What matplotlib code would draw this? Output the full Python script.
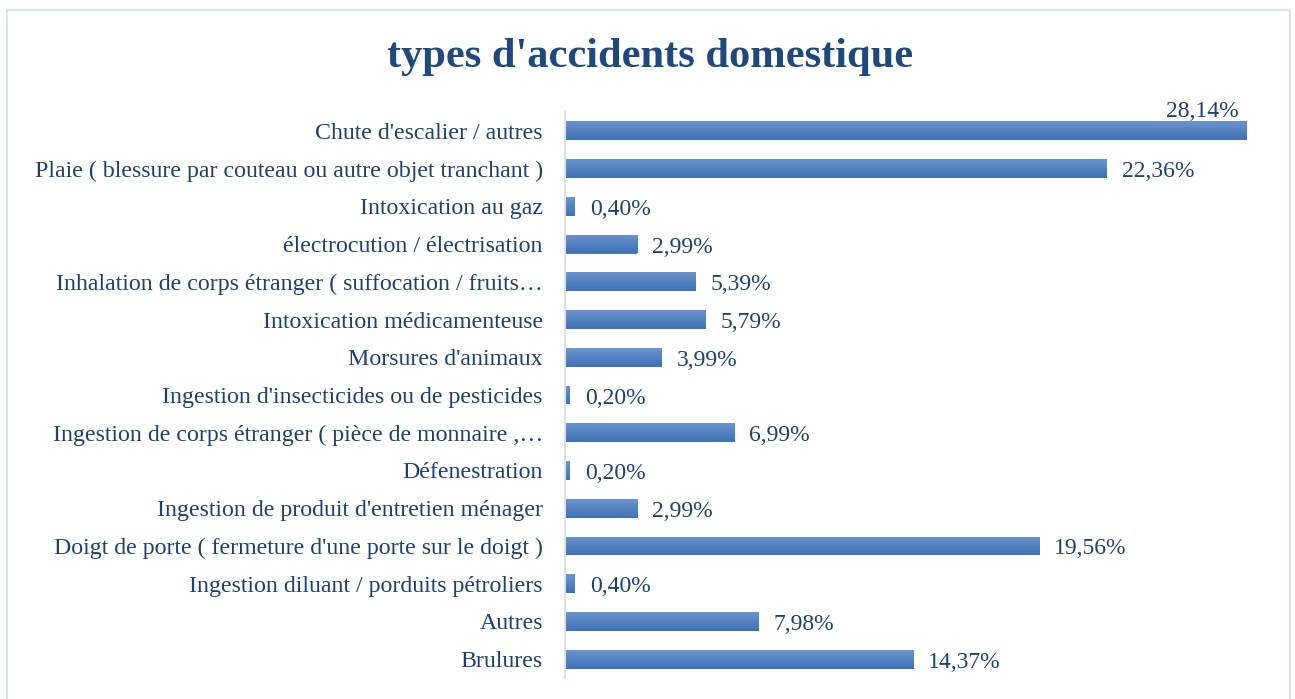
import matplotlib.pyplot as plt
import matplotlib.patches as mpatches
from matplotlib.colors import LinearSegmentedColormap
import numpy as np

plt.rcParams['font.family'] = ['Liberation Serif', 'DejaVu Serif']

categories = [
    "Chute d'escalier / autres",
    "Plaie ( blessure par couteau ou autre objet tranchant )",
    "Intoxication au gaz",
    "électrocution / électrisation",
    "Inhalation de corps étranger ( suffocation / fruits…",
    "Intoxication médicamenteuse",
    "Morsures d'animaux",
    "Ingestion d'insecticides ou de pesticides",
    "Ingestion de corps étranger ( pièce de monnaire ,…",
    "Défenestration",
    "Ingestion de produit d'entretien ménager",
    "Doigt de porte ( fermeture d'une porte sur le doigt )",
    "Ingestion diluant / porduits pétroliers",
    "Autres",
    "Brulures",
]
values = [28.14, 22.36, 0.40, 2.99, 5.39, 5.79, 3.99, 0.20, 6.99, 0.20,
          2.99, 19.56, 0.40, 7.98, 14.37]

text_col = '#1F3F6E'
title_col = '#1F497D'

fig = plt.figure(figsize=(12.95, 6.99), dpi=100)
fig.patches.append(mpatches.Rectangle((7 / 1295, -0.02), 1283 / 1295, 1 - 10 / 699 + 0.02,
                                      transform=fig.transFigure, fill=False,
                                      edgecolor='#D6E3F3', linewidth=1.5))
ax = fig.add_axes([565 / 1295, 1 - 678 / 699, 682 / 1295, 566 / 699])

y = np.arange(len(categories))
bars = ax.barh(y, values, height=0.5, color='#4F81BD', edgecolor='none')

# vertical gradient fill like the original
grad = np.linspace(0, 1, 64).reshape(-1, 1)
cmap = LinearSegmentedColormap.from_list('g', ['#6B94CC', '#3E71B6'])
for b in bars:
    x0, y0 = b.get_x(), b.get_y()
    w, h = b.get_width(), b.get_height()
    im = ax.imshow(grad, cmap=cmap, aspect='auto', extent=(x0, x0 + w, y0 + h, y0),
                   origin='upper', zorder=2)
    im.set_clip_path(b)

ax.set_ylim(len(categories) - 0.5, -0.5)
ax.set_xlim(0, max(values))

for i, v in enumerate(values):
    lab = f"{v:.2f}%".replace('.', ',')
    if i == 0:
        ax.text(v - 0.35, i - 0.52, lab, ha='right', va='center', fontsize=17, color=text_col)
    else:
        ax.text(v + 0.62, i + 0.08, lab, ha='left', va='center', fontsize=17, color=text_col)

ax.set_yticks(y)
ax.set_yticklabels(categories, fontsize=17.2, color=text_col)
ax.tick_params(axis='y', length=0, pad=16)
ax.set_xticks([])
for s in ['top', 'right', 'bottom']:
    ax.spines[s].set_visible(False)
ax.spines['left'].set_color('#D9E2F0')
ax.spines['left'].set_linewidth(1.5)

fig.text(0.502, 1 - 57 / 699, "types d'accidents domestique", ha='center', va='center',
         fontsize=30.6, fontweight='bold', color=title_col)

fig.savefig('out.png', dpi=100)
